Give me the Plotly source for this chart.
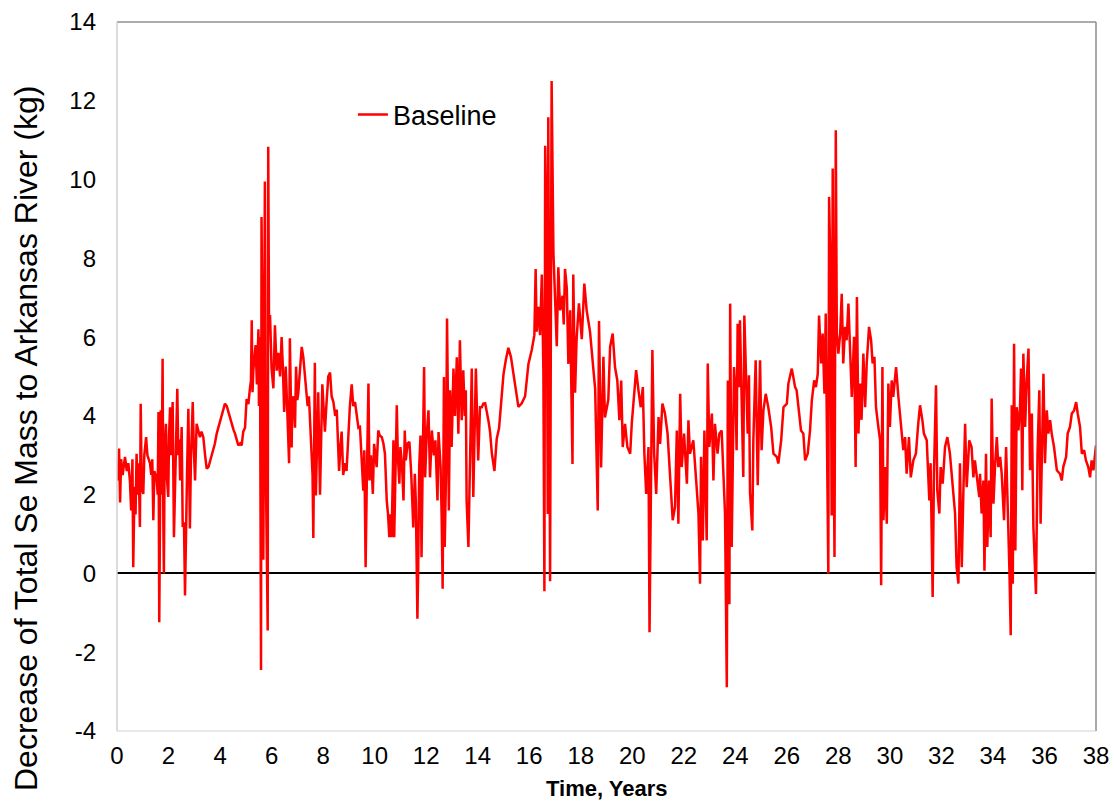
import plotly.graph_objects as go

# (time in years, decrease of total Se mass in kg)
seg_0_10 = [
    (0.00, 2.36), (0.04, 2.6), (0.08, 3.17), (0.12, 1.8), (0.16, 2.9), (0.22, 2.5), (0.31, 2.96),
    (0.38, 2.6), (0.44, 2.8), (0.50, 2.36), (0.55, 1.6), (0.60, 2.9), (0.63, 0.16), (0.68, 2.2),
    (0.72, 1.5), (0.76, 3.04), (0.80, 2.0), (0.84, 2.8), (0.89, 1.18), (0.92, 4.31), (0.96, 2.2),
    (1.02, 2.02), (1.06, 3.0), (1.13, 3.46), (1.18, 3.0), (1.24, 2.9), (1.28, 2.8), (1.33, 2.5),
    (1.37, 2.9), (1.41, 1.35), (1.45, 2.6), (1.50, 2.5), (1.54, 2.36), (1.58, 2.0), (1.61, 4.1),
    (1.64, -1.24), (1.67, 1.5), (1.70, 4.14), (1.73, 2.0), (1.77, 5.45), (1.80, 1.2), (1.82, 0.0),
    (1.85, 3.2), (1.90, 3.8), (1.94, 2.4), (1.99, 1.94), (2.02, 3.5), (2.06, 4.22), (2.10, 3.0),
    (2.16, 4.35), (2.21, 0.92), (2.25, 2.2), (2.29, 2.7), (2.34, 4.69), (2.38, 3.0), (2.42, 3.4),
    (2.45, 2.36), (2.51, 3.72), (2.55, 1.18), (2.60, 1.3), (2.64, -0.56), (2.68, 1.6), (2.72, 2.6),
    (2.77, 4.18), (2.83, 1.14), (2.87, 2.9), (2.94, 4.35), (2.98, 3.2), (3.03, 2.36), (3.09, 3.8),
    (3.15, 3.6), (3.22, 3.46), (3.28, 3.6), (3.35, 3.46), (3.42, 3.0), (3.48, 2.66), (3.55, 2.7),
    (3.61, 2.83), (3.68, 3.0), (3.74, 3.13), (3.80, 3.3), (3.87, 3.55), (3.93, 3.7), (4.00, 3.89),
    (4.10, 4.15), (4.19, 4.31), (4.26, 4.25), (4.32, 4.1), (4.40, 3.95), (4.45, 3.8), (4.52, 3.65),
    (4.58, 3.55), (4.65, 3.4), (4.71, 3.25), (4.78, 3.3), (4.84, 3.25), (4.90, 3.6), (4.97, 3.7),
    (5.03, 4.43), (5.10, 4.3), (5.16, 4.7), (5.20, 4.9), (5.23, 6.43), (5.26, 4.6), (5.29, 5.15),
    (5.34, 5.5), (5.38, 5.8), (5.43, 4.8), (5.46, 5.9), (5.49, 6.2), (5.51, 4.25), (5.55, 6.0),
    (5.59, -2.45), (5.61, 9.05), (5.65, 5.5), (5.68, 0.35), (5.72, 6.97), (5.74, 9.95), (5.77, 3.0),
    (5.81, 0.8), (5.85, -1.45), (5.87, 10.83), (5.90, 6.5), (5.94, 6.56), (6.00, 5.2), (6.07, 4.7),
    (6.13, 6.3), (6.20, 5.15), (6.26, 5.6), (6.33, 5.0), (6.39, 6.0), (6.44, 5.2), (6.49, 4.1),
    (6.55, 5.25), (6.59, 4.5), (6.62, 3.4), (6.68, 2.8), (6.71, 5.97), (6.75, 4.0), (6.78, 3.2),
    (6.80, 4.2), (6.85, 4.5), (6.91, 3.7), (6.95, 5.25), (7.00, 4.4), (7.04, 4.6), (7.10, 5.15),
    (7.17, 5.75), (7.23, 5.5), (7.30, 5.0), (7.35, 4.8), (7.40, 4.25), (7.45, 4.5), (7.49, 3.9),
    (7.55, 3.0), (7.59, 2.5), (7.62, 0.9), (7.65, 3.5), (7.68, 5.35), (7.72, 1.98), (7.76, 3.0),
    (7.81, 4.6), (7.88, 2.0), (7.93, 3.2), (7.97, 4.8), (8.02, 4.2), (8.07, 3.6), (8.13, 4.3),
    (8.20, 5.0), (8.27, 5.1), (8.33, 4.5), (8.40, 4.35), (8.47, 4.0), (8.53, 4.16), (8.57, 3.4),
    (8.62, 2.6), (8.67, 3.2), (8.72, 3.6), (8.78, 2.5), (8.85, 2.8), (8.91, 2.6), (8.98, 3.6),
    (9.04, 4.25), (9.11, 4.8), (9.17, 4.25), (9.24, 4.35), (9.30, 4.0), (9.37, 3.7), (9.43, 3.72),
    (9.50, 2.8), (9.56, 2.1), (9.60, 3.13), (9.65, 0.16), (9.70, 2.5), (9.76, 4.82), (9.80, 2.36),
    (9.86, 3.0), (9.93, 2.02), (9.98, 3.29),
]

seg_10_20 = [
    (10.08, 2.7), (10.14, 3.63), (10.20, 3.5), (10.28, 3.46), (10.34, 3.3), (10.40, 3.04),
    (10.47, 1.85), (10.52, 1.5), (10.57, 0.92), (10.62, 1.5), (10.66, 0.92), (10.73, 3.38),
    (10.76, 0.92), (10.80, 2.5), (10.86, 4.27), (10.90, 3.0), (10.96, 2.28), (11.00, 3.21),
    (11.06, 2.8), (11.12, 1.85), (11.17, 3.63), (11.21, 2.87), (11.28, 3.3), (11.35, 3.34),
    (11.42, 2.53), (11.50, 1.17), (11.56, 2.53), (11.60, 1.8), (11.66, -1.15), (11.69, 0.07),
    (11.73, 2.7), (11.78, 3.5), (11.82, 0.41), (11.86, 2.5), (11.92, 5.24), (11.96, 2.44),
    (12.02, 3.5), (12.09, 4.14), (12.15, 2.44), (12.22, 3.63), (12.30, 3.0), (12.36, 3.38),
    (12.44, 1.85), (12.48, 3.59), (12.56, 2.7), (12.60, 1.5), (12.64, -0.39), (12.69, 4.99),
    (12.72, 0.67), (12.77, 2.5), (12.81, 6.47), (12.85, 4.06), (12.88, 1.6), (12.93, 4.65),
    (12.99, 3.21), (13.06, 5.2), (13.12, 4.0), (13.19, 5.49), (13.25, 3.55), (13.31, 5.92),
    (13.38, 3.89), (13.44, 5.16), (13.50, 4.0), (13.54, 4.65), (13.57, 1.85), (13.64, 0.67),
    (13.70, 3.04), (13.77, 5.2), (13.83, 1.94), (13.88, 3.5), (13.93, 5.2), (14.02, 2.87),
    (14.09, 4.22), (14.16, 4.22), (14.22, 4.31), (14.29, 4.32), (14.35, 4.14), (14.42, 3.87),
    (14.48, 3.6), (14.55, 3.05), (14.65, 2.6), (14.74, 3.42), (14.83, 3.69), (14.91, 4.41),
    (15.00, 5.05), (15.09, 5.41), (15.19, 5.73), (15.29, 5.5), (15.39, 5.05), (15.48, 4.55),
    (15.58, 4.23), (15.71, 4.32), (15.84, 4.5), (15.97, 5.32), (16.10, 5.68), (16.20, 6.05),
    (16.25, 7.73), (16.29, 6.14), (16.36, 6.77), (16.42, 6.05), (16.49, 7.59), (16.55, 5.14),
    (16.59, -0.45), (16.62, 10.86), (16.68, 8.5), (16.72, 1.51), (16.74, 11.58), (16.81, -0.2),
    (16.87, 12.5), (16.94, 8.14), (17.00, 6.86), (17.07, 5.77), (17.13, 7.77), (17.20, 6.68),
    (17.29, 7.05), (17.34, 6.32), (17.39, 7.73), (17.46, 7.23), (17.52, 5.32), (17.59, 6.68),
    (17.68, 2.78), (17.71, 7.59), (17.78, 4.59), (17.84, 5.95), (17.93, 6.86), (18.04, 5.95),
    (18.14, 7.36), (18.23, 6.68), (18.36, 6.14), (18.49, 5.05), (18.56, 4.68), (18.66, 1.6),
    (18.71, 6.41), (18.79, 2.69), (18.88, 5.5), (18.94, 3.96), (19.07, 4.41), (19.14, 5.75),
    (19.24, 6.09), (19.33, 5.24), (19.42, 4.9), (19.50, 3.89), (19.57, 4.9), (19.63, 3.21),
    (19.72, 3.8), (19.81, 3.21), (19.92, 3.04), (19.98, 3.8),
]

seg_20_30 = [
    (20.07, 4.56), (20.15, 5.16), (20.24, 4.65), (20.33, 4.22), (20.41, 4.73), (20.47, 3.04),
    (20.54, 2.02), (20.63, 3.21), (20.67, -1.49), (20.72, 1.94), (20.78, 5.67), (20.85, 3.04),
    (20.93, 2.02), (21.02, 3.97), (21.08, 3.29), (21.17, 4.31), (21.27, 4.06), (21.37, 3.55),
    (21.47, 2.28), (21.57, 1.35), (21.66, 1.7), (21.73, 3.63), (21.79, 1.26), (21.86, 4.56),
    (21.92, 2.7), (22.01, 3.55), (22.12, 2.28), (22.18, 3.89), (22.24, 3.04), (22.37, 3.38),
    (22.48, 2.36), (22.57, 1.52), (22.63, -0.26), (22.67, 2.96), (22.74, 0.84), (22.80, 3.63),
    (22.89, 0.84), (22.93, 5.33), (22.99, 3.21), (23.09, 4.06), (23.15, 2.36), (23.21, 3.8),
    (23.31, 3.04), (23.38, 3.55), (23.47, 3.63), (23.54, 2.19), (23.60, 1.52), (23.67, -2.89),
    (23.71, 4.9), (23.77, -0.78), (23.80, 6.85), (23.86, 0.67), (23.95, 5.24), (24.01, 4.56),
    (24.05, 3.13), (24.09, 6.34), (24.14, 4.73), (24.18, 6.43), (24.25, 3.89), (24.31, 2.45),
    (24.35, 6.55), (24.42, 4.82), (24.48, 3.55), (24.53, 5.03), (24.57, 2.07), (24.66, 1.09),
    (24.70, 3.38), (24.79, 5.41), (24.87, 2.24), (24.96, 5.41), (25.02, 3.13), (25.09, 4.14),
    (25.18, 4.56), (25.28, 4.22), (25.39, 3.72), (25.48, 3.04), (25.61, 2.96), (25.67, 2.79),
    (25.78, 3.38), (25.87, 4.22), (26.00, 4.31), (26.06, 4.82), (26.19, 5.2), (26.25, 4.99),
    (26.32, 4.73), (26.38, 4.65), (26.47, 4.14), (26.55, 3.63), (26.64, 3.55), (26.71, 2.87),
    (26.81, 3.04), (26.90, 3.63), (26.97, 4.39), (27.06, 4.9), (27.13, 4.73), (27.20, 5.07),
    (27.25, 6.55), (27.33, 5.33), (27.39, 6.09), (27.46, 4.56), (27.51, 6.6), (27.56, 3.55),
    (27.61, -0.01), (27.64, 9.56), (27.70, 7.44), (27.74, 1.47), (27.78, 10.28), (27.82, 3.04),
    (27.85, 0.42), (27.90, 11.25), (27.94, 6.09), (28.00, 5.58), (28.07, 6.09), (28.13, 7.1),
    (28.19, 5.33), (28.26, 6.26), (28.32, 5.92), (28.39, 6.85), (28.45, 5.92), (28.52, 4.48),
    (28.61, 6.01), (28.67, 2.7), (28.72, 7.02), (28.78, 3.55), (28.84, 4.82), (28.90, 3.9),
    (28.97, 5.58), (29.04, 4.22), (29.10, 5.33), (29.19, 6.26), (29.27, 5.92), (29.33, 5.33),
    (29.40, 5.5), (29.46, 4.22), (29.55, 3.72), (29.62, 3.38), (29.66, -0.3), (29.71, 5.24),
    (29.75, 1.35), (29.81, 2.7), (29.88, 1.26), (29.94, 4.82),
]

seg_30_38 = [
    (30.00, 3.72), (30.07, 4.9), (30.13, 4.48), (30.24, 5.24), (30.33, 4.48), (30.42, 3.8),
    (30.52, 3.13), (30.59, 3.46), (30.65, 2.53), (30.74, 3.46), (30.81, 2.44), (30.91, 2.87),
    (31.01, 3.04), (31.10, 3.8), (31.17, 4.27), (31.26, 3.89), (31.32, 3.55), (31.43, 3.38),
    (31.49, 2.53), (31.53, 1.85), (31.58, 2.8), (31.66, -0.6), (31.71, 2.53), (31.79, 4.78),
    (31.84, 2.11), (31.92, 1.52), (31.97, 2.7), (32.05, 2.28), (32.14, 3.21), (32.23, 3.46),
    (32.33, 3.04), (32.44, 2.19), (32.53, 1.52), (32.59, 0.16), (32.66, -0.26), (32.72, 2.8),
    (32.79, 0.16), (32.85, 2.02), (32.92, 3.8), (32.98, 2.19), (33.08, 3.38), (33.17, 3.21),
    (33.24, 2.44), (33.30, 2.87), (33.39, 2.36), (33.47, 1.94), (33.50, 2.53), (33.56, 1.52),
    (33.63, 2.36), (33.67, 0.07), (33.73, 3.04), (33.78, 0.67), (33.85, 2.36), (33.91, 0.92),
    (33.95, 4.44), (34.02, 1.77), (34.08, 2.7), (34.15, 3.46), (34.21, 2.7), (34.28, 2.96),
    (34.34, 2.53), (34.43, 1.35), (34.51, 3.21), (34.56, 2.19), (34.64, 0.07), (34.69, -1.57),
    (34.73, 4.27), (34.77, -0.26), (34.82, 5.83), (34.87, 0.58), (34.92, 4.22), (34.99, 3.63),
    (35.05, 4.22), (35.09, 5.2), (35.14, 2.11), (35.18, 5.58), (35.25, 3.72), (35.31, 4.9),
    (35.38, 5.71), (35.44, 2.62), (35.51, 4.06), (35.57, 1.18), (35.63, 0.07), (35.67, -0.52),
    (35.73, 3.04), (35.80, 4.65), (35.85, 1.26), (35.92, 3.8), (35.96, 5.07), (36.02, 2.8),
    (36.09, 4.14), (36.15, 3.55), (36.22, 3.89), (36.28, 3.55), (36.37, 3.21), (36.48, 2.62),
    (36.60, 2.53), (36.67, 2.36), (36.73, 2.7), (36.84, 2.96), (36.90, 3.55), (36.99, 3.72),
    (37.06, 4.06), (37.15, 4.14), (37.23, 4.35), (37.29, 4.06), (37.38, 3.72), (37.45, 3.04),
    (37.54, 3.13), (37.61, 2.87), (37.70, 2.7), (37.77, 2.44), (37.83, 2.87), (37.90, 2.62),
    (37.96, 2.96), (38.00, 3.25),
]

series_name = "Baseline"
x_title = "Time, Years"
y_title = "Decrease of Total Se Mass to Arkansas River (kg)"
x_ticks = list(range(0, 39, 2))
y_ticks = list(range(-4, 15, 2))

points = seg_0_10 + seg_10_20 + seg_20_30 + seg_30_38
years = [p[0] for p in points]
decrease_kg = [p[1] for p in points]

fig = go.Figure()
fig.add_trace(go.Scatter(
    x=years, y=decrease_kg, mode="lines", name=series_name,
    line=dict(color="#FF0000", width=2.5),
))

W, H = 1114, 802
L, R, T, B = 117, 18, 22, 71

fig.update_layout(
    template="none",
    width=W, height=H,
    margin=dict(l=L, r=R, t=T, b=B, autoexpand=False),
    paper_bgcolor="white", plot_bgcolor="white",
    showlegend=True,
    legend=dict(x=0.241, y=0.869, xanchor="left", yanchor="middle",
                font=dict(family="Liberation Sans, Arial, sans-serif", size=27, color="black"),
                bgcolor="rgba(0,0,0,0)", borderwidth=0),
    xaxis=dict(range=[0, 38], tickvals=x_ticks, ticktext=[str(v) for v in x_ticks],
               showgrid=False, zeroline=False, showline=False, ticks="", automargin=False,
               ticklabelstandoff=8,
               tickfont=dict(family="Liberation Sans Narrow, Arial Narrow, Liberation Sans, sans-serif",
                             size=24, color="black")),
    yaxis=dict(range=[-4, 14], tickvals=y_ticks, ticktext=[str(v) for v in y_ticks],
               showgrid=False, zeroline=True, zerolinecolor="black", zerolinewidth=2,
               showline=False, ticks="", automargin=False, ticklabelstandoff=20,
               tickfont=dict(family="Liberation Sans, Arial, sans-serif", size=24, color="black")),
    annotations=[
        dict(text=y_title, xref="paper", yref="paper", x=(26 - L) / (W - L - R),
             y=(H - B - 439) / (H - T - B), textangle=-90, showarrow=False,
             xanchor="center", yanchor="middle",
             font=dict(family="Liberation Sans, Arial, sans-serif", size=32, color="black")),
        dict(text="<b>" + x_title + "</b>", xref="paper", yref="paper", x=(607 - L) / (W - L - R),
             y=(H - B - 788) / (H - T - B), showarrow=False, xanchor="center", yanchor="middle",
             font=dict(family="Liberation Sans Narrow, Arial Narrow, Liberation Sans, sans-serif",
                       size=22, color="black")),
    ],
    shapes=[
        dict(type="line", xref="paper", yref="paper", x0=0, x1=1, y0=1, y1=1,
             line=dict(color="#595959", width=1)),
        dict(type="line", xref="paper", yref="paper", x0=0, x1=0, y0=0, y1=1,
             line=dict(color="#d0d0d0", width=1.5)),
        dict(type="line", xref="paper", yref="paper", x0=1, x1=1, y0=0, y1=1,
             line=dict(color="#8c8c8c", width=1.5)),
        dict(type="line", xref="paper", yref="paper", x0=0, x1=1, y0=0, y1=0,
             line=dict(color="#d0d0d0", width=1)),
    ],
)

fig.write_html("out.html")
